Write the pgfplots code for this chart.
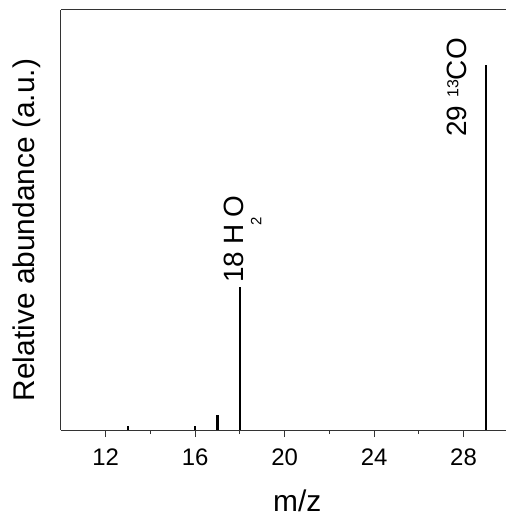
\documentclass[border=0pt]{standalone}
\usepackage{fontspec}
\setmainfont{Liberation Sans}
\usepackage{pgfplots}
\pgfplotsset{compat=1.18}
\begin{document}
\begin{tikzpicture}
\useasboundingbox (-61bp,-90bp) rectangle (445bp,430bp);
\begin{axis}[
  at={(0,0)}, anchor=south west,
  scale only axis, width=445bp, height=420bp,
  xmin=10, xmax=29.9, ymin=0, ymax=100,
  axis x line*=box, axis y line*=left,
  axis line style={line width=1bp, black!80},
  xtick={12,16,20,24,28}, minor xtick={14,18,22,26},
  xtick pos=lower, ytick=\empty,
  tick align=outside, major tick length=7bp, minor tick length=4bp,
  tick style={line width=1bp, black!80},
  /pgf/number format/assume math mode=true,
  tick label style={font=\fontsize{24}{24}\selectfont},
  xticklabel style={yshift=-8bp},
  xlabel={m/z}, ylabel={Relative abundance (a.u.)},
  label style={font=\fontsize{30}{30}\selectfont},
  xlabel style={at={(axis description cs:0.531,-0.195)}, anchor=base},
  ylabel style={at={(axis description cs:-0.0605,0.476)}, anchor=base},
  clip=false,
]
\addplot[ycomb, mark=none, line width=2.6bp, black] coordinates {
  (13,1.0) (16,1.0) (17,3.6) (18,34) (29,86.9)
};
\node[rotate=90, anchor=base west, inner sep=0pt, font=\fontsize{28}{28}\selectfont]
  at ([xshift=3.5bp]axis cs:18,35) {18 H\kern-2bp\raisebox{-18bp}{\fontsize{15}{15}\selectfont 2}\kern0.5bp O};
\node[rotate=90, anchor=base west, inner sep=0pt, font=\fontsize{28}{28}\selectfont]
  at ([xshift=-19bp]axis cs:29,69.8) {29 \raisebox{8.5bp}{\fontsize{16}{16}\selectfont 13}CO};
\end{axis}
\end{tikzpicture}
\end{document}
